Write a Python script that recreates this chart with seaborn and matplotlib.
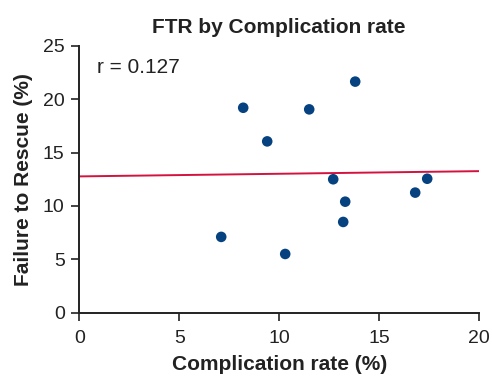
import numpy as np
import pandas as pd
import matplotlib
matplotlib.use("Agg")
import matplotlib.pyplot as plt
import seaborn as sns

# values
complication_rate = [7.1, 8.2, 9.4, 10.3, 11.5, 12.7, 13.2, 13.3, 13.8, 16.8, 17.4]
failure_to_rescue = [7.1, 19.2, 16.05, 5.5, 19.05, 12.5, 8.5, 10.4, 21.65, 11.25, 12.55]
r_label = "r = 0.127"

df = pd.DataFrame({"comp": complication_rate, "ftr": failure_to_rescue})

sns.set_theme(style="ticks")
plt.rcParams["font.family"] = ["Liberation Sans", "DejaVu Sans"]

fig, ax = plt.subplots(figsize=(4.92, 3.79), dpi=100)
ax.set_xlim(0, 20)
ax.set_ylim(0, 25)

# regression line drawn across the whole axis
sns.regplot(data=df, x="comp", y="ftr", ax=ax, ci=None, truncate=False,
            scatter=False, line_kws={"color": "#d4123f", "lw": 1.4, "zorder": 1})
sns.scatterplot(data=df, x="comp", y="ftr", ax=ax, s=58, color="#06427f",
                edgecolor="none", zorder=3)

ax.set_xticks([0, 5, 10, 15, 20])
ax.set_yticks([0, 5, 10, 15, 20, 25])
ax.tick_params(labelsize=14, length=5.5, width=1.2, color="#222222", labelcolor="#222222")
ax.tick_params(axis="x", pad=7)
ax.tick_params(axis="y", pad=5)
for s in ["left", "bottom"]:
    ax.spines[s].set_linewidth(1.4)
    ax.spines[s].set_color("#222222")
sns.despine(ax=ax)

ax.set_title("FTR by Complication rate", fontsize=15, fontweight="bold",
             color="#222222", pad=9)
ax.set_xlabel("Complication rate (%)", fontsize=15, fontweight="bold", color="#222222",
              labelpad=6)
ax.set_ylabel("Failure to Rescue (%)", fontsize=15, fontweight="bold", color="#222222",
              labelpad=7)
ax.text(0.9, 22.95, r_label, fontsize=15, va="center", ha="left", color="#222222")

fig.subplots_adjust(left=0.161, right=0.974, top=0.879, bottom=0.175)
fig.savefig("out.png", dpi=100)
